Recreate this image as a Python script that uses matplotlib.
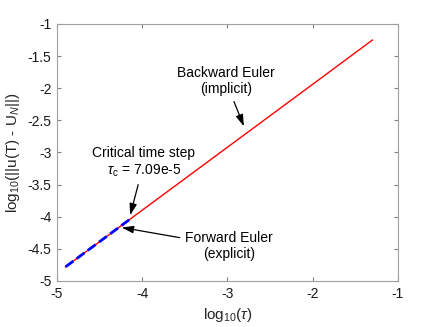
import matplotlib
matplotlib.use('Agg')
import matplotlib.pyplot as plt

plt.rcParams['font.family'] = ['Liberation Sans', 'DejaVu Sans']
plt.rcParams['mathtext.fontset'] = 'custom'
plt.rcParams['mathtext.rm'] = 'Liberation Sans'
plt.rcParams['mathtext.it'] = 'Liberation Sans:italic'

# log10 of time step vs log10 of error
log_tau_be = [-4.9, -4.149, -3.0, -2.0, -1.3]
log_err_be = [-4.78, -4.044, -2.918, -1.938, -1.25]
log_tau_fe = [-4.9, -4.149]
log_err_fe = [-4.78, -4.044]

xticks = [-5, -4, -3, -2, -1]
yticks = [-5, -4.5, -4, -3.5, -3, -2.5, -2, -1.5, -1]

fig = plt.figure(figsize=(4.4, 3.27), dpi=100)
ax = fig.add_axes([0.1295, 0.1407, 0.775, 0.786])

ax.plot(log_tau_be, log_err_be, color='red', lw=1.0)
ax.plot(log_tau_fe, log_err_fe, color='blue', lw=2.0, ls=(0, (3.5, 1.5)))

ax.set_xlim(-5, -1)
ax.set_ylim(-5, -1)
ax.set_xticks(xticks)
ax.set_yticks(yticks)
ax.set_xticklabels(['%g' % t for t in xticks])
ax.set_yticklabels(['%g' % t for t in yticks])
ax.tick_params(direction='in', length=3, color='#808080', labelsize=10,
               labelcolor='#1a1a1a', top=True, right=True, pad=4)
for s in ax.spines.values():
    s.set_color('#a0a0a0')
    s.set_linewidth(0.8)

ax.set_xlabel(r'log$_{10}$($\it{\tau}$)', fontsize=11, color='#262626')
ax.set_ylabel(r'log$_{10}$(||u(T) - U$_N$||)', fontsize=11, color='#262626')

arrow = dict(arrowstyle='-|>,head_length=0.7,head_width=0.22', color='black',
             lw=0.9, mutation_scale=10)
ax.annotate('Backward Euler\n(implicit)', xy=(-2.795, -2.634), xytext=(-3.02, -1.89),
            ha='center', va='center', fontsize=10, arrowprops=arrow)
ax.annotate('Critical time step\n' + r'$\it{\tau}_{\rm c}$ = 7.09e-5', xy=(-4.15, -4.02),
            xytext=(-3.98, -3.16), ha='center', va='center', fontsize=10,
            arrowprops=arrow)
ax.annotate('Forward Euler\n(explicit)', xy=(-4.273, -4.16), xytext=(-2.98, -4.46),
            ha='center', va='center', fontsize=10, arrowprops=arrow)

fig.savefig('out.png', dpi=100)
